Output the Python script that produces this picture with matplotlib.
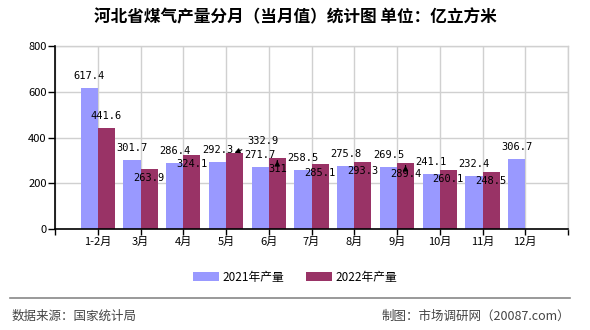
import matplotlib.pyplot as plt
import numpy as np

plt.rcParams['font.family'] = ['Noto Sans CJK SC', 'DejaVu Sans']

months = ["1-2月", "3月", "4月", "5月", "6月", "7月", "8月", "9月", "10月", "11月", "12月"]
output2021 = [617.4, 301.7, 286.4, 292.3, 271.7, 258.5, 275.8, 269.5, 241.1, 232.4, 306.7]
output2022 = [441.6, 263.9, 324.1, 332.9, 311, 285.1, 293.3, 289.4, 260.1, 248.5, None]
yTicks = [0, 200, 400, 600, 800]

BLUE = "#9999FF"
RED = "#993366"
GRID = "#d0d0d0"

W, H = 590, 330
fig = plt.figure(figsize=(W / 100, H / 100), dpi=100)
ax = fig.add_axes([55 / W, (H - 229) / H, (568 - 55) / W, (229 - 46) / H])

x = np.arange(len(months))
barWidth = 0.4
red_x = [i for i, v in enumerate(output2022) if v is not None]
red_v = [v for v in output2022 if v is not None]

ax.bar(x - barWidth / 2, output2021, width=barWidth, color=BLUE, label="2021年产量", zorder=2)
ax.bar(np.array(red_x) + barWidth / 2, red_v, width=barWidth, color=RED, label="2022年产量", zorder=2)

ax.set_xlim(-1, len(months))
ax.set_ylim(0, 800)
ax.set_yticks(yTicks)
ax.set_xticks(np.arange(-1, len(months) + 1))
ax.set_xticklabels([""] + months + [""], fontsize=8)
ax.tick_params(axis="y", labelsize=8, length=5, width=1, pad=1)
ax.tick_params(axis="x", length=4, width=1, pad=2)
ax.grid(True, color=GRID, linewidth=1, zorder=0)
ax.set_axisbelow(True)
for s in ["top", "right"]:
    ax.spines[s].set_color(GRID)
    ax.spines[s].set_linewidth(1)
for s in ["left", "bottom"]:
    ax.spines[s].set_color("black")
    ax.spines[s].set_linewidth(1.2)
    ax.spines[s].set_zorder(3)

labelFont = dict(family="DejaVu Sans Mono", fontsize=7.5, ha="center", va="center", zorder=5)

# 2021 labels sit above the bars
for i, v in enumerate(output2021):
    ax.annotate(f"{v:g}", (i - barWidth / 2, v), xytext=(0, 12),
                textcoords="offset pixels", **labelFont)

# 2022 labels: first above, the rest pushed under the bar tops (as in the source chart)
for i, v in zip(red_x, red_v):
    if i == 0:
        ax.annotate(f"{v:g}", (i + barWidth / 2, v), xytext=(0, 12),
                    textcoords="offset pixels", **labelFont)
    elif i == 3:
        ax.annotate(f"{v:g}", (i + barWidth / 2, v), xytext=(28, 12),
                    textcoords="offset pixels",
                    arrowprops=dict(arrowstyle="-|>", color="black", lw=0.8,
                                    shrinkA=2, shrinkB=0), **labelFont)
    elif i in (4, 7):
        ax.annotate(f"{v:g}", (i + barWidth / 2, v), xytext=(0, -11),
                    textcoords="offset pixels",
                    arrowprops=dict(arrowstyle="-|>", color="black", lw=0.8,
                                    shrinkA=3, shrinkB=2), **labelFont)
    else:
        ax.annotate(f"{v:g}", (i + barWidth / 2, v), xytext=(0, -9),
                    textcoords="offset pixels", **labelFont)

fig.text(0.5, 1 - 17 / H, "河北省煤气产量分月（当月值）统计图 单位：亿立方米",
         ha="center", va="center", fontsize=12, fontweight="bold")

fig.legend(loc="center", bbox_to_anchor=(0.5, 1 - 277 / H), ncol=2, frameon=False,
           fontsize=8.5, handlelength=2.2, handleheight=0.8, columnspacing=1.8,
           handletextpad=0.3)

fig.add_artist(plt.Line2D([10 / W, 570 / W], [1 - 298 / H, 1 - 298 / H],
                          color="#888888", linewidth=1.2))
fig.text(12 / W, 1 - 316 / H, "数据来源：国家统计局", ha="left", va="center",
         fontsize=9, color="#444444")
fig.text(570 / W, 1 - 316 / H, "制图：市场调研网（20087.com）", ha="right", va="center",
         fontsize=9, color="#444444")

fig.savefig("out.png", dpi=100)
